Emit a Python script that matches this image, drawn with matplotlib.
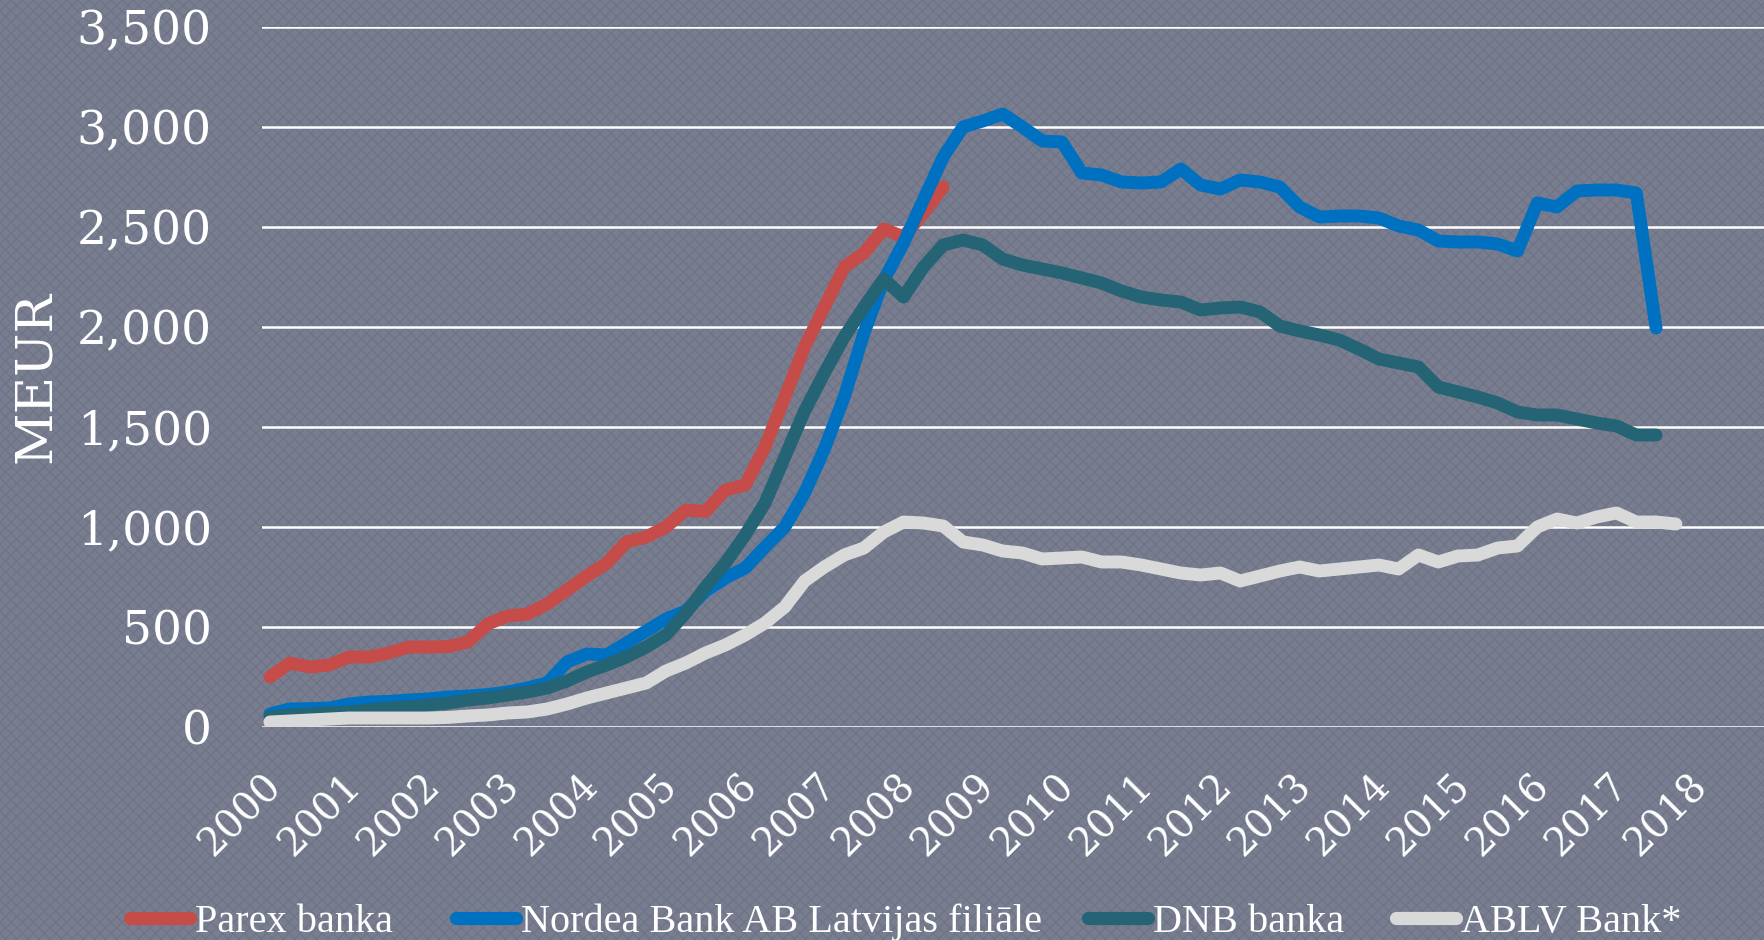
import matplotlib
matplotlib.use("Agg")
import matplotlib.pyplot as plt
from matplotlib.lines import Line2D
from matplotlib.patches import Rectangle
from matplotlib.transforms import ScaledTranslation

# ---- data (quarterly, 2000 Q1 = index 0) ----
years = list(range(2000, 2019))
parex = [250, 320, 300, 310, 350, 350, 370, 400, 400, 402, 425, 515, 555, 565, 615, 685,
         755, 818, 925, 950, 1000, 1085, 1077, 1185, 1210, 1400, 1650, 1900, 2100, 2300,
         2370, 2490, 2450, 2570, 2700]
nordea = [65, 90, 92, 95, 115, 125, 128, 135, 140, 150, 155, 162, 175, 195, 220, 325,
          365, 360, 420, 480, 540, 580, 680, 745, 795, 900, 1000, 1170, 1390, 1650,
          1970, 2235, 2420, 2635, 2850, 3000, 3030, 3065, 3000, 2930, 2925, 2770, 2760,
          2725, 2720, 2725, 2790, 2710, 2690, 2735, 2725, 2700, 2600, 2550, 2555, 2555,
          2545, 2505, 2485, 2430, 2425, 2425, 2415, 2380, 2620, 2600, 2680, 2685, 2685,
          2670, 1995]
dnb = [50, 60, 65, 70, 75, 85, 95, 100, 110, 120, 135, 145, 160, 175, 195, 230, 275,
       310, 350, 400, 460, 570, 700, 820, 960, 1120, 1350, 1580, 1770, 1950, 2100, 2240,
       2150, 2300, 2410, 2435, 2410, 2340, 2310, 2290, 2270, 2245, 2220, 2180, 2150,
       2135, 2125, 2085, 2095, 2100, 2075, 2005, 1980, 1960, 1935, 1890, 1840, 1820,
       1800, 1700, 1675, 1650, 1620, 1575, 1560, 1560, 1540, 1520, 1505, 1460, 1460]
ablv = [25, 30, 35, 40, 45, 45, 45, 45, 45, 48, 55, 60, 70, 75, 90, 115, 145, 170, 195,
        220, 280, 320, 370, 410, 460, 520, 600, 730, 800, 860, 895, 975, 1025, 1020,
        1005, 925, 910, 880, 870, 840, 845, 850, 825, 825, 810, 790, 770, 760, 770, 730,
        755, 780, 800, 780, 790, 800, 810, 790, 860, 825, 855, 860, 895, 905, 1000, 1040,
        1020, 1050, 1070, 1025, 1025, 1015]
series_names = ["Parex banka", "Nordea Bank AB Latvijas filiāle", "DNB banka", "ABLV Bank*"]
series_colors = ["#C54C48", "#0070C0", "#246475", "#D9D9D9"]
yticks = [0, 500, 1000, 1500, 2000, 2500, 3000, 3500]

W, H = 1764, 940
plt.rcParams["hatch.linewidth"] = 0.8
fig = plt.figure(figsize=(W / 100, H / 100), dpi=100)
bg = "#787e90"
fig.patch.set_facecolor(bg)
fig.patches.append(Rectangle((0, 0), 1, 1, transform=fig.transFigure, facecolor="none",
                             edgecolor="#6e7486", hatch="xxx", linewidth=0, zorder=-10))

ax = fig.add_axes([262 / W, 1 - 727 / H, (W - 262) / W, 700 / H])
ax.set_facecolor("none")
for s in ax.spines.values():
    s.set_visible(False)

for k, (vals, col) in enumerate(zip([parex, nordea, dnb, ablv], series_colors)):
    ax.plot(range(len(vals)), vals, color=col, lw=9.3, solid_capstyle="round",
            solid_joinstyle="round", zorder=3 + k)

ax.set_ylim(0, 3500)
ax.set_xlim(-0.4, 75.45)
ax.set_yticks(yticks)
ax.set_yticklabels([f"{v:,}" for v in yticks], family="DejaVu Serif", fontsize=34,
                   color="white")
ax.yaxis.grid(True, color="white", lw=1.8, zorder=1)
ax.set_axisbelow(True)
ax.tick_params(axis="y", length=0, pad=36)

ax.set_xticks([4 * i for i in range(len(years))])
ax.set_xticklabels([str(y) for y in years], family="DejaVu Serif", fontsize=28,
                   color="white", rotation=45, ha="right", va="top",
                   rotation_mode="anchor")
ax.tick_params(axis="x", length=0, pad=29)
off = ScaledTranslation(-7 / 100, 0, fig.dpi_scale_trans)
for lab in ax.get_xticklabels():
    lab.set_transform(lab.get_transform() + off)

fig.text(36 / W, 1 - 377 / H, "MEUR", rotation=90, ha="center", va="center",
         family="DejaVu Serif", fontsize=37, color="white")

# legend, one entry per position
leg_x = [130, 456, 1088, 1396]
for name, col, x0 in zip(series_names, series_colors, leg_x):
    h = Line2D([], [], color=col, lw=9.5, solid_capstyle="round")
    lg = fig.legend([h], [name], loc="center left", bbox_to_anchor=(x0 / W, 1 - 922 / H),
                    frameon=False, borderpad=0, borderaxespad=0, handlelength=1.5,
                    handletextpad=0.12,
                    prop={"family": "Liberation Serif", "size": 29})
    for t in lg.get_texts():
        t.set_color("white")

fig.savefig("out.png", dpi=100, facecolor=fig.get_facecolor())
